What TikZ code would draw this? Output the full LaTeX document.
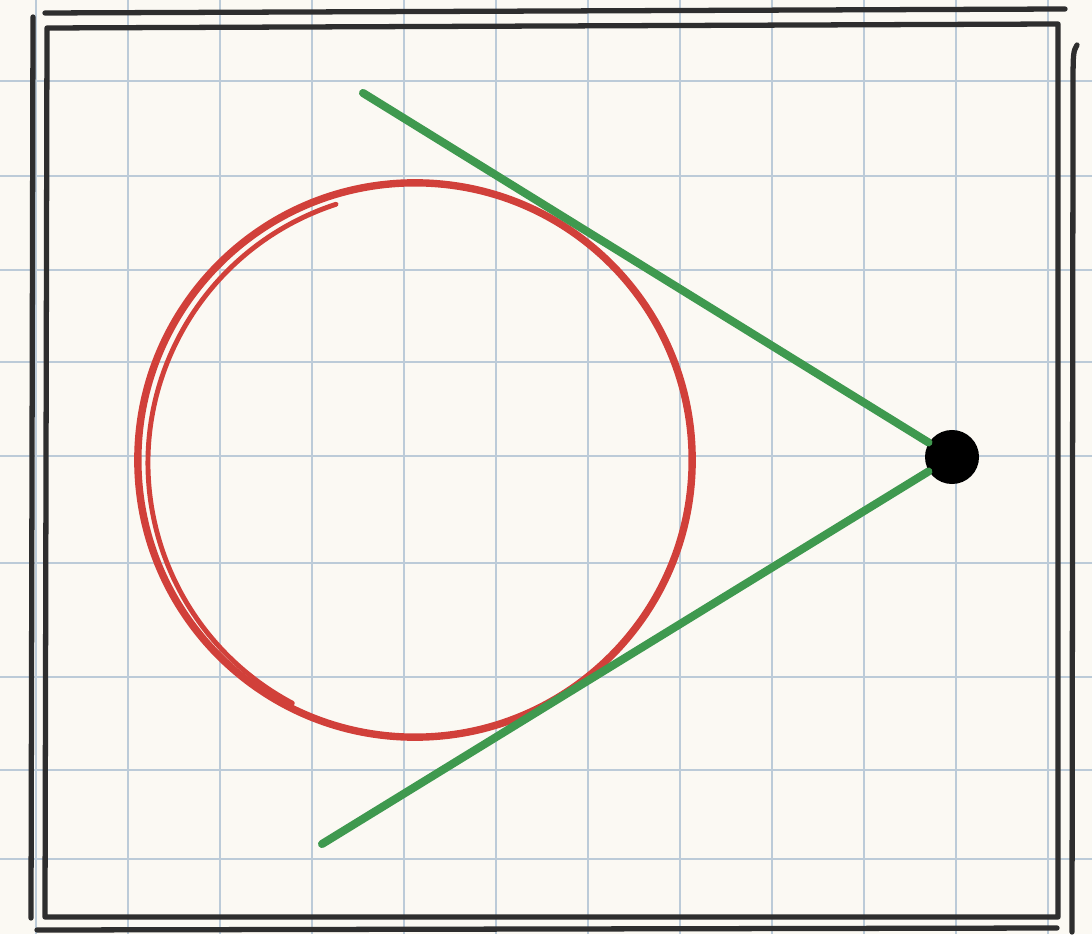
\documentclass[tikz,border=0pt]{standalone}
\usepackage{xcolor}
\usepackage{tikz}
\usetikzlibrary{calc}

\definecolor{paper}{HTML}{FBF9F3}
\definecolor{gridblue}{HTML}{BCCBD8}
\definecolor{penred}{HTML}{D1403A}
\definecolor{pengreen}{HTML}{3F994F}
\definecolor{penblack}{HTML}{2E2E2E}

\begin{document}
\begin{tikzpicture}[
    x=0.01cm, y=-0.01cm,
    gridline/.style={draw=gridblue, line width=0.8pt},
    frameline/.style={draw=penblack, line width=1.5pt, line cap=round, line join=round},
    ring/.style={circle, draw=penred, line width=2.1pt, minimum size=5.54cm, inner sep=0pt},
    ringline/.style={draw=penred, line width=1.4pt, line cap=round},
    tangent/.style={draw=pengreen, line width=2.3pt, line cap=round},
    point/.style={circle, fill=black, minimum size=0.54cm, inner sep=0pt},
]

% Paper and bounding box
\fill[paper] (0,0) rectangle (1092,934);
\useasboundingbox (0,0) rectangle (1092,934);

% Grid paper
\foreach \gx in {36,128,220,312,404,496,588,680,772,864,956,1048}
    \draw[gridline] (\gx,0) -- (\gx,934);
\foreach \gy in {81,176,270,362,456,563,677,770,859}
    \draw[gridline] (0,\gy) -- (1092,\gy);

% Frame, drawn twice by hand
\draw[frameline] (1058,24) -- (47,28) -- (45,917) -- (1058,917) -- cycle;
\draw[frameline] (45,13) -- (1065,9);
\draw[frameline] (33,17) -- (31,918);
\draw[frameline] (37,930) -- (1057,928);
\draw[frameline] (1077,45) .. controls (1073,52) .. (1073,95) -- (1072,932);

% Circle and the outside point
\node[ring] (circ) at (415,460) {};
\draw[ringline] ($(circ.center)+(5,3)$) ++(118:272) arc (118:252:272);
\node[point] (P) at (952,457) {};

% Tangent lines from the point
\coordinate (T1) at (363,93);
\coordinate (T2) at (322,844);
\draw[tangent] (T1) -- (P);
\draw[tangent] (T2) -- (P);

\end{tikzpicture}
\end{document}
